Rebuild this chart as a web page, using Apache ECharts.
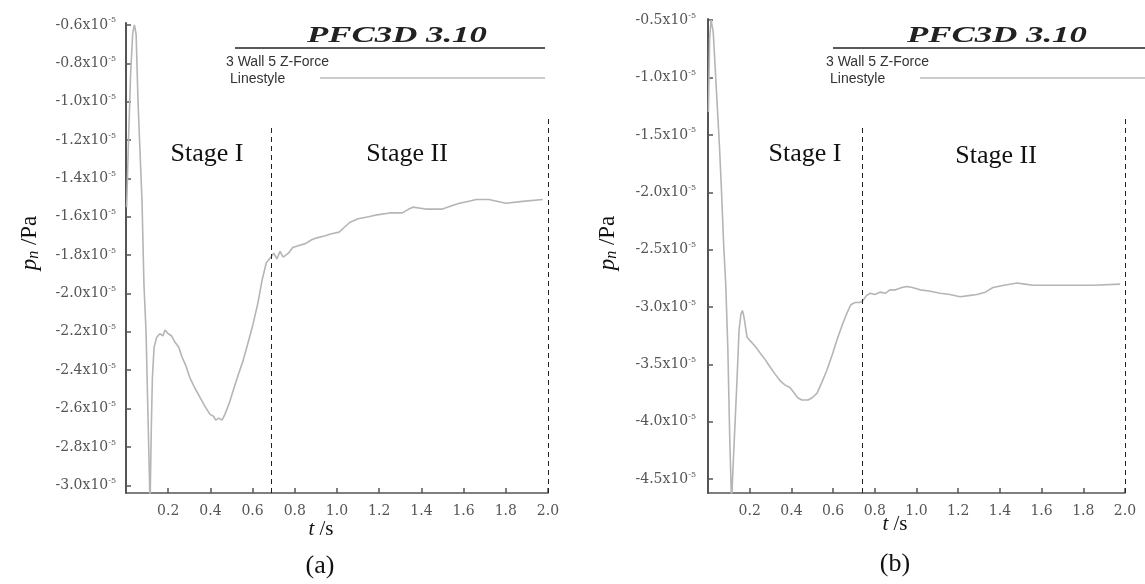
<!DOCTYPE html>
<html>
<head>
  <meta charset="UTF-8">
  <script src="https://cdn.jsdelivr.net/npm/echarts@6.0.0/dist/echarts.min.js"></script>
  <style>
    html, body { margin: 0; padding: 0; background: #fff; }
    #main { width: 1145px; height: 584px; }
  </style>
</head>
<body>
<div id="main"></div>
<script type="text/javascript">
  // panel (a): time in s, pressure in units of 10^-5 Pa
  var timeA = [0.003, 0.012, 0.022, 0.032, 0.04, 0.048, 0.057, 0.066, 0.076, 0.085, 0.095, 0.104, 0.114, 0.12, 0.125, 0.133, 0.145, 0.16, 0.175, 0.185, 0.2, 0.215, 0.23, 0.25, 0.265, 0.285, 0.303, 0.325, 0.35, 0.375, 0.398, 0.415, 0.425, 0.44, 0.455, 0.469, 0.49, 0.507, 0.53, 0.555, 0.58, 0.602, 0.625, 0.645, 0.665, 0.687, 0.7, 0.715, 0.73, 0.745, 0.77, 0.79, 0.82, 0.85, 0.88, 0.905, 0.94, 0.97, 1.01, 1.03, 1.06, 1.1, 1.15, 1.19, 1.25, 1.31, 1.34, 1.36, 1.42, 1.5, 1.55, 1.58, 1.62, 1.66, 1.72, 1.8, 1.88, 1.975];
  var pressureA = [-1.55, -1.2, -0.85, -0.64, -0.6, -0.65, -1.0, -1.25, -1.52, -1.95, -2.2, -2.63, -3.1, -2.7, -2.44, -2.28, -2.23, -2.21, -2.22, -2.19, -2.21, -2.22, -2.25, -2.28, -2.33, -2.38, -2.44, -2.49, -2.54, -2.59, -2.63, -2.64, -2.66, -2.65, -2.66, -2.63, -2.57, -2.51, -2.43, -2.35, -2.25, -2.16, -2.05, -1.93, -1.84, -1.81, -1.79, -1.82, -1.78, -1.81, -1.79, -1.76, -1.75, -1.74, -1.72, -1.71, -1.70, -1.69, -1.68, -1.66, -1.63, -1.61, -1.60, -1.59, -1.58, -1.58, -1.56, -1.55, -1.56, -1.56, -1.54, -1.53, -1.52, -1.51, -1.51, -1.53, -1.52, -1.51];

  // panel (b)
  var timeB = [0.002, 0.008, 0.015, 0.025, 0.04, 0.055, 0.065, 0.075, 0.085, 0.095, 0.105, 0.113, 0.12, 0.13, 0.139, 0.149, 0.158, 0.165, 0.172, 0.187, 0.2, 0.211, 0.23, 0.25, 0.275, 0.297, 0.32, 0.345, 0.37, 0.393, 0.41, 0.43, 0.45, 0.48, 0.5, 0.523, 0.545, 0.57, 0.595, 0.618, 0.645, 0.667, 0.685, 0.705, 0.725, 0.74, 0.76, 0.777, 0.8, 0.825, 0.85, 0.873, 0.9, 0.93, 0.954, 0.98, 1.017, 1.06, 1.113, 1.16, 1.209, 1.25, 1.29, 1.33, 1.367, 1.42, 1.482, 1.52, 1.559, 1.65, 1.75, 1.85, 1.976];
  var pressureB = [-1.3, -0.65, -0.5, -0.6, -1.1, -1.6, -2.0, -2.45, -2.8, -3.35, -4.2, -4.7, -4.4, -4.0, -3.64, -3.2, -3.06, -3.03, -3.08, -3.26, -3.29, -3.31, -3.35, -3.40, -3.46, -3.52, -3.58, -3.64, -3.68, -3.70, -3.74, -3.79, -3.81, -3.81, -3.79, -3.75, -3.66, -3.55, -3.42, -3.29, -3.15, -3.05, -2.98, -2.96, -2.96, -2.95, -2.90, -2.88, -2.89, -2.87, -2.88, -2.85, -2.85, -2.83, -2.82, -2.83, -2.85, -2.86, -2.88, -2.89, -2.91, -2.90, -2.89, -2.87, -2.83, -2.81, -2.79, -2.80, -2.81, -2.81, -2.81, -2.81, -2.80];

  // tick labels
  var xTicks = [0.2, 0.4, 0.6, 0.8, 1.0, 1.2, 1.4, 1.6, 1.8, 2.0];
  var yTicksA = [-3.0, -2.8, -2.6, -2.4, -2.2, -2.0, -1.8, -1.6, -1.4, -1.2, -1.0, -0.8, -0.6];
  var yTicksB = [-4.5, -4.0, -3.5, -3.0, -2.5, -2.0, -1.5, -1.0, -0.5];

  // stage boundaries (t) and where each dashed line stops at the top
  var stageEdgesA = [0.687, 2.0];
  var stageTopsA = [-1.12, -1.08];
  var stageEdgesB = [0.74, 2.0];
  var stageTopsB = [-1.42, -1.34];

  function zip(xs, ys) { return xs.map(function (x, i) { return [x, ys[i]]; }); }

  var labelFont = 'DejaVu Serif';
  var labelColor = '#555';
  var axisColor = '#555';

  function yLabel(digits) {
    return function (v) { return '{b|' + v.toFixed(digits) + 'x10}{s|-5}'; };
  }

  function xAxisCfg(idx) {
    return {
      type: 'value', gridIndex: idx, min: 0, max: 2.0,
      splitLine: { show: false },
      axisLine: { lineStyle: { color: axisColor, width: 1.5 } },
      axisTick: { inside: true, length: 5, customValues: xTicks, lineStyle: { color: axisColor, width: 1.5 } },
      axisLabel: { customValues: xTicks, margin: 11, color: labelColor, fontFamily: labelFont, fontSize: 14,
        formatter: function (v) { return v.toFixed(1); } }
    };
  }

  function yAxisCfg(idx, min, max, ticks, margin) {
    return {
      type: 'value', gridIndex: idx, min: min, max: max,
      splitLine: { show: false },
      axisLine: { show: true, lineStyle: { color: axisColor, width: 2 } },
      axisTick: { show: true, inside: true, length: 5, customValues: ticks, lineStyle: { color: axisColor, width: 1.5 } },
      axisLabel: {
        customValues: ticks, margin: margin, formatter: yLabel(1),
        rich: {
          b: { color: labelColor, fontFamily: labelFont, fontSize: 14 },
          s: { color: labelColor, fontFamily: labelFont, fontSize: 8, padding: [0, 0, 9, 0] }
        }
      }
    };
  }

  function dashes(edges, tops, bottom) {
    return edges.map(function (t, i) { return [{ coord: [t, bottom] }, { coord: [t, tops[i]] }]; });
  }

  function curve(idx, xs, ys, edges, tops, bottom) {
    return {
      type: 'line', xAxisIndex: idx, yAxisIndex: idx,
      data: zip(xs, ys), showSymbol: false, smooth: false, clip: true,
      lineStyle: { color: '#b5b5b5', width: 1.6 },
      markLine: {
        silent: true, symbol: ['none', 'none'], label: { show: false },
        lineStyle: { color: '#222', type: [5, 4], width: 1 },
        data: dashes(edges, tops, bottom)
      }
    };
  }

  function header(cx, lineX1, lineX2, legendX, legendLineX1) {
    return [
      { type: 'text', x: cx, y: 36, scaleX: 1.45,
        style: { text: 'PFC3D 3.10', font: 'italic bold 24px "Liberation Serif"', fill: '#222', align: 'center', verticalAlign: 'middle' } },
      { type: 'line', shape: { x1: lineX1, y1: 48, x2: lineX2, y2: 48 }, style: { stroke: '#222', lineWidth: 1.5 } },
      { type: 'text', x: legendX, y: 62, style: { text: '3 Wall 5 Z-Force', font: '14px "Liberation Sans"', fill: '#333', verticalAlign: 'middle' } },
      { type: 'text', x: legendX + 4, y: 79, style: { text: 'Linestyle', font: '14px "Liberation Sans"', fill: '#333', verticalAlign: 'middle' } },
      { type: 'line', shape: { x1: legendLineX1, y1: 78, x2: lineX2, y2: 78 }, style: { stroke: '#999', lineWidth: 1.2 } }
    ];
  }

  function serifText(x, y, text, size) {
    return { type: 'text', x: x, y: y,
      style: { text: text, font: size + 'px "Liberation Serif"', fill: '#111', align: 'center', verticalAlign: 'middle' } };
  }

  function yName(x, y) {
    return { type: 'text', x: x, y: y, rotation: Math.PI / 2,
      style: { text: '{i|p}{sub|n}{n| /Pa}', align: 'center', verticalAlign: 'middle',
        rich: {
          i: { font: 'italic 23px "Liberation Serif"', fill: '#111' },
          sub: { font: 'italic 16px "Liberation Serif"', fill: '#111', padding: [7, 0, 0, 0] },
          n: { font: '23px "Liberation Serif"', fill: '#111' }
        } } };
  }

  function xName(x, y) {
    return { type: 'text', x: x, y: y,
      style: { text: '{i|t}{n| /s}', align: 'center', verticalAlign: 'middle',
        rich: { i: { font: 'italic 21px "Liberation Serif"', fill: '#111' }, n: { font: '21px "Liberation Serif"', fill: '#111' } } } };
  }

  var chart = echarts.init(document.getElementById('main'));

  var graphics = []
    .concat(header(397, 235, 545, 226, 320))
    .concat(header(997, 833, 1145, 826, 920))
    .concat([
      serifText(207, 154, 'Stage I', 26),
      serifText(407, 154, 'Stage II', 26),
      serifText(805, 154, 'Stage I', 26),
      serifText(996, 156, 'Stage II', 26),
      yName(30, 243),
      yName(608, 243),
      xName(321, 529),
      xName(895, 524),
      serifText(320, 566, '(a)', 26),
      serifText(895, 564, '(b)', 26)
    ]);

  var option = {
    animation: false,
    backgroundColor: '#fff',
    grid: [
      { left: 126, right: 597, top: 23, bottom: 91 },
      { left: 708, right: 20, top: 19, bottom: 91 }
    ],
    xAxis: [xAxisCfg(0), xAxisCfg(1)],
    yAxis: [
      yAxisCfg(0, -3.04, -0.59, yTicksA, 10),
      yAxisCfg(1, -4.62, -0.49, yTicksB, 12)
    ],
    series: [
      curve(0, timeA, pressureA, stageEdgesA, stageTopsA, -3.04),
      curve(1, timeB, pressureB, stageEdgesB, stageTopsB, -4.62)
    ],
    graphic: { elements: graphics }
  };

  chart.setOption(option);
</script>
</body>
</html>
